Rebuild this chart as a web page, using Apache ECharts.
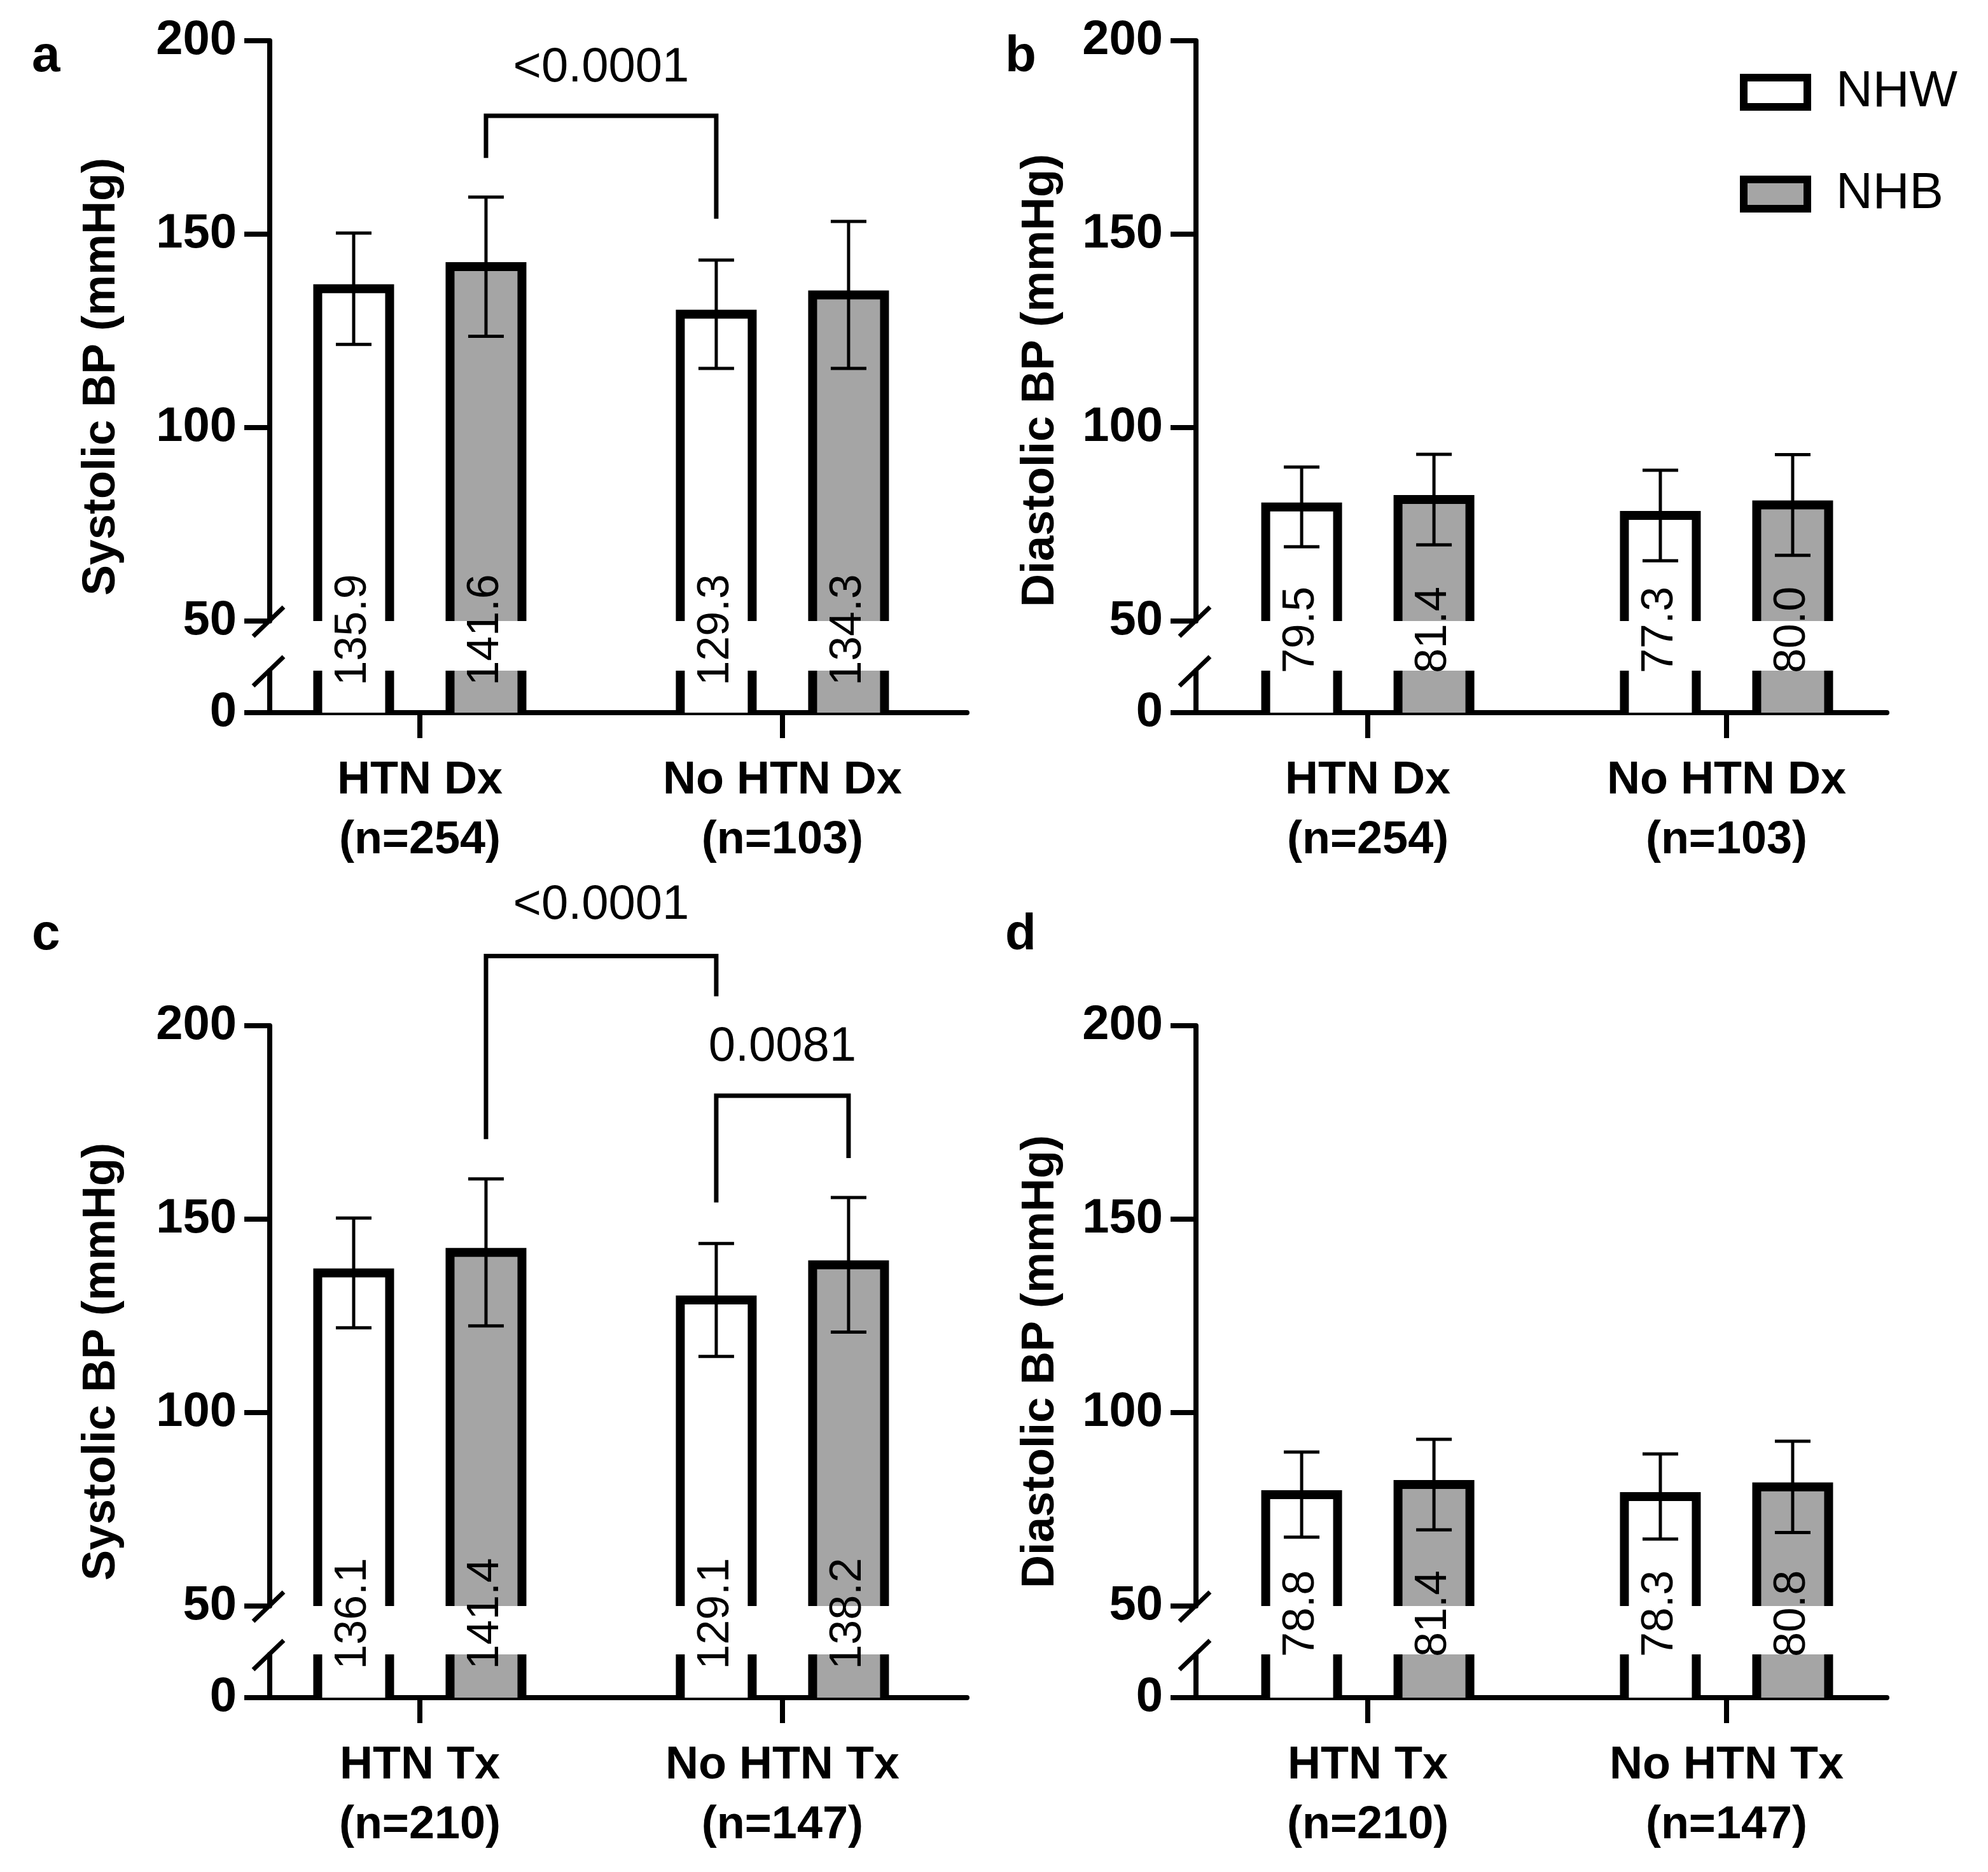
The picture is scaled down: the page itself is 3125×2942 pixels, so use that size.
<!DOCTYPE html>
<html><head><meta charset="utf-8">
<script src="https://cdn.jsdelivr.net/npm/echarts@6/dist/echarts.min.js"></script>
<style>html,body{margin:0;background:#fff}#c{width:3125px;height:2942px}</style>
</head><body><div id="c"></div>
<script>
// ---- data ----
const catsDx = ['HTN Dx\n(n=254)', 'No HTN Dx\n(n=103)'];
const catsTx = ['HTN Tx\n(n=210)', 'No HTN Tx\n(n=147)'];
const groups = ['NHW', 'NHB'];
const aNHW = [135.9, 129.3], aNHWsd = [14.4, 14.0];
const aNHB = [141.6, 134.3], aNHBsd = [18.0, 19.0];
const bNHW = [79.5, 77.3], bNHWsd = [10.3, 11.7];
const bNHB = [81.4, 80.0], bNHBsd = [11.7, 13.0];
const cNHW = [136.1, 129.1], cNHWsd = [14.2, 14.6];
const cNHB = [141.4, 138.2], cNHBsd = [19.0, 17.4];
const dNHW = [78.8, 78.3], dNHWsd = [11.0, 11.0];
const dNHB = [81.4, 80.8], dNHBsd = [11.7, 11.8];
// brackets: [catFrom, groupFrom, catTo, groupTo, topValue, leftEnd, rightEnd, textValue], text
const bracketsA = [[0, 1, 1, 0, 180.6, 169.7, 154.0, 193]];
const bracketTextA = ['<0.0001'];
const bracketsC = [[0, 1, 1, 0, 218.0, 170.7, 207.6, 231], [1, 0, 1, 1, 181.9, 154.3, 165.8, 194.4]];
const bracketTextC = ['<0.0001', '0.0081'];

// ---- layout ----
const FONT = 'Liberation Sans, Arial, sans-serif';
const OFF = 104, BW = 113, SW = 14;
const panels = [
  {left: 424, width: 1096, up: [64, 976], lo: [1054, 1120], xmin: -0.414, xmax: 1.509, cats: catsDx, nhw: aNHW, nhwsd: aNHWsd, nhb: aNHB, nhbsd: aNHBsd, br: bracketsA, brt: bracketTextA, title: 'Systolic BP (mmHg)', tx: 160, ty: 592, letter: 'a', lx: 50, ly: 50},
  {left: 1880, width: 1086, up: [64, 976], lo: [1054, 1120], xmin: -0.479, xmax: 1.447, cats: catsDx, nhw: bNHW, nhwsd: bNHWsd, nhb: bNHB, nhbsd: bNHBsd, br: [], brt: [], title: 'Diastolic BP (mmHg)', tx: 1636, ty: 598, letter: 'b', lx: 1580, ly: 50},
  {left: 424, width: 1096, up: [1612, 2524], lo: [2600, 2668], xmin: -0.414, xmax: 1.509, cats: catsTx, nhw: cNHW, nhwsd: cNHWsd, nhb: cNHB, nhbsd: cNHBsd, br: bracketsC, brt: bracketTextC, title: 'Systolic BP (mmHg)', tx: 160, ty: 2140, letter: 'c', lx: 50, ly: 1430},
  {left: 1880, width: 1086, up: [1612, 2524], lo: [2600, 2668], xmin: -0.479, xmax: 1.447, cats: catsTx, nhw: dNHW, nhwsd: dNHWsd, nhb: dNHB, nhbsd: dNHBsd, br: [], brt: [], title: 'Diastolic BP (mmHg)', tx: 1636, ty: 2140, letter: 'd', lx: 1580, ly: 1430}
];
const fills = ['#ffffff', '#a5a5a5'];

const grid = [], xAxis = [], yAxis = [], series = [], graphic = [];

function barRender(gi, lower) {
  return function (params, api) {
    const i = api.value(0), v = api.value(1), sd = api.value(2);
    const off = gi === 0 ? -OFF : OFF;
    const xc = api.coord([i, v])[0] + off;
    const x0 = xc - BW / 2, x1 = xc + BW / 2;
    const children = [];
    if (!lower) {
      const base = api.coord([i, 50])[1];
      const top = api.coord([i, v])[1];
      children.push({type: 'rect', shape: {x: x0, y: top, width: BW, height: base - top}, style: {fill: fills[gi]}});
      children.push({type: 'polyline', shape: {points: [[x0, base], [x0, top], [x1, top], [x1, base]]}, style: {stroke: '#000', lineWidth: SW, fill: null, lineJoin: 'miter'}});
      const yh = api.coord([i, v + sd])[1], yl = api.coord([i, v - sd])[1];
      children.push({type: 'line', shape: {x1: xc, y1: yh, x2: xc, y2: yl}, style: {stroke: '#000', lineWidth: 5}});
      children.push({type: 'line', shape: {x1: xc - 28, y1: yh, x2: xc + 28, y2: yh}, style: {stroke: '#000', lineWidth: 5}});
      children.push({type: 'line', shape: {x1: xc - 28, y1: yl, x2: xc + 28, y2: yl}, style: {stroke: '#000', lineWidth: 5}});
    } else {
      const base = api.coord([i, 0])[1], top = api.coord([i, 50])[1];
      children.push({type: 'rect', shape: {x: x0, y: top, width: BW, height: base - top}, style: {fill: fills[gi]}});
      children.push({type: 'line', shape: {x1: x0, y1: top, x2: x0, y2: base}, style: {stroke: '#000', lineWidth: SW}});
      children.push({type: 'line', shape: {x1: x1, y1: top, x2: x1, y2: base}, style: {stroke: '#000', lineWidth: SW}});
      children.push({type: 'text', x: xc, y: top - 64, rotation: Math.PI / 2, z2: 10,
        style: {text: v.toFixed(1), font: '70px ' + FONT, fill: '#000', align: 'center', verticalAlign: 'middle'}});
    }
    return {type: 'group', children};
  };
}

panels.forEach((p, k) => {
  const gU = grid.length;
  grid.push({left: p.left, width: p.width, top: p.up[0], height: p.up[1] - p.up[0]});
  grid.push({left: p.left, width: p.width, top: p.lo[0], height: p.lo[1] - p.lo[0]});
  xAxis.push({type: 'value', gridIndex: gU, min: p.xmin, max: p.xmax, show: false});
  xAxis.push({type: 'value', gridIndex: gU + 1, min: p.xmin, max: p.xmax, splitLine: {show: false},
    axisLine: {show: true, onZero: false, lineStyle: {color: '#000', width: 8}},
    axisTick: {show: true, customValues: [0, 1], length: 40, lineStyle: {color: '#000', width: 8}},
    axisLabel: {customValues: [0, 1], formatter: v => p.cats[Math.round(v)], fontFamily: FONT, fontWeight: 'bold', fontSize: 72, lineHeight: 94, color: '#000', margin: 60}});
  const yCommon = {splitLine: {show: false},
    axisLine: {show: true, onZero: false, lineStyle: {color: '#000', width: 8}},
    axisTick: {show: true, length: 40, lineStyle: {color: '#000', width: 8}},
    axisLabel: {fontFamily: FONT, fontWeight: 'bold', fontSize: 76, color: '#000', margin: 52, showMinLabel: true, showMaxLabel: true, hideOverlap: false}};
  yAxis.push(Object.assign({type: 'value', gridIndex: gU, min: 50, max: 200, interval: 50}, yCommon));
  yAxis.push(Object.assign({type: 'value', gridIndex: gU + 1, min: 0, max: 50, interval: 50}, yCommon));
  [[p.nhw, p.nhwsd], [p.nhb, p.nhbsd]].forEach((d, gi) => {
    const data = d[0].map((v, i) => [i, v, d[1][i]]);
    series.push({type: 'custom', name: groups[gi], xAxisIndex: gU, yAxisIndex: gU, data, renderItem: barRender(gi, false), clip: false, encode: {x: 0, y: 1}});
    series.push({type: 'custom', name: groups[gi], xAxisIndex: gU + 1, yAxisIndex: gU + 1, data, renderItem: barRender(gi, true), clip: false, encode: {x: 0, y: 1}, z: 3});
  });
  if (p.br.length) {
    series.push({type: 'custom', xAxisIndex: gU, yAxisIndex: gU, clip: false, data: p.br,
      encode: {x: 0, y: 4},
      renderItem: function (params, api) {
        const b = p.br[params.dataIndex];
        const xa = api.coord([b[0], b[4]])[0] + (b[1] === 0 ? -OFF : OFF);
        const xb = api.coord([b[2], b[4]])[0] + (b[3] === 0 ? -OFF : OFF);
        const yt = api.coord([0, b[4]])[1], yl = api.coord([0, b[5]])[1], yr = api.coord([0, b[6]])[1], ytx = api.coord([0, b[7]])[1];
        return {type: 'group', children: [
          {type: 'polyline', shape: {points: [[xa, yl], [xa, yt], [xb, yt], [xb, yr]]}, style: {stroke: '#000', lineWidth: 7, fill: null, lineJoin: 'miter'}},
          {type: 'text', x: (xa + xb) / 2, y: ytx, style: {text: p.brt[params.dataIndex], font: '76px ' + FONT, fill: '#000', align: 'center', verticalAlign: 'middle'}}
        ]};
      }});
  }
  // break marks
  const ax = p.left;
  graphic.push({type: 'line', shape: {x1: ax - 26, y1: p.up[1] + 24, x2: ax + 22, y2: p.up[1] - 22}, style: {stroke: '#000', lineWidth: 7}});
  graphic.push({type: 'line', shape: {x1: ax - 26, y1: p.lo[0] + 24, x2: ax + 22, y2: p.lo[0] - 22}, style: {stroke: '#000', lineWidth: 7}});
  graphic.push({type: 'text', x: p.tx, y: p.ty, rotation: Math.PI / 2, style: {text: p.title, font: 'bold 72px ' + FONT, fill: '#000', align: 'center', verticalAlign: 'middle'}});
  graphic.push({type: 'text', x: p.lx, y: p.ly, style: {text: p.letter, font: 'bold 80px ' + FONT, fill: '#000', align: 'left', verticalAlign: 'top'}});
});

const chart = echarts.init(document.getElementById('c'));
chart.setOption({
  animation: false,
  backgroundColor: '#fff',
  grid, xAxis, yAxis, series, graphic,
  legend: {orient: 'vertical', left: 2730, top: 100, itemWidth: 100, itemHeight: 46, itemGap: 80, icon: 'rect',
    textStyle: {fontFamily: FONT, fontSize: 80, color: '#000', padding: [0, 0, 0, 40]},
    data: [{name: 'NHW', itemStyle: {color: '#fff', borderColor: '#000', borderWidth: 12}},
           {name: 'NHB', itemStyle: {color: '#a5a5a5', borderColor: '#000', borderWidth: 12}}]}
});
</script></body></html>
